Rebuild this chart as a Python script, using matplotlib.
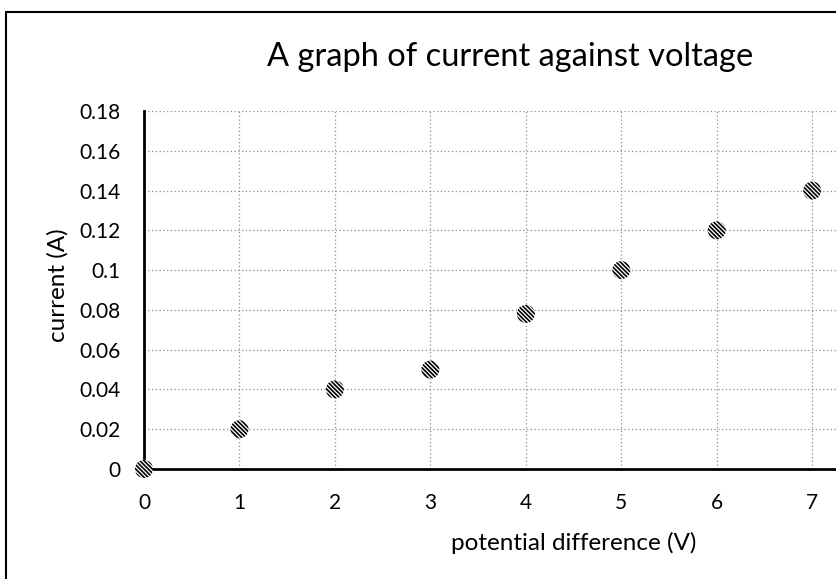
import matplotlib.pyplot as plt
from matplotlib.patches import Rectangle

# Measured values
voltage = [0, 1, 2, 3, 4, 5, 6, 7]
current = [0, 0.02, 0.04, 0.05, 0.078, 0.10, 0.12, 0.14]

x_ticks = [0, 1, 2, 3, 4, 5, 6, 7]
y_ticks = [0, 0.02, 0.04, 0.06, 0.08, 0.1, 0.12, 0.14, 0.16, 0.18]
y_tick_labels = ['0', '0.02', '0.04', '0.06', '0.08', '0.1', '0.12', '0.14', '0.16', '0.18']

plt.rcParams['font.family'] = ['Lato', 'DejaVu Sans']
plt.rcParams['hatch.linewidth'] = 1.2

W, H = 837, 579
fig = plt.figure(figsize=(W / 100, H / 100), dpi=100)

# Outer chart frame (cut off on the right and bottom)
fig.patches.append(Rectangle((6 / W, -0.1), 1.2, 1 - 12 / H + 0.1, transform=fig.transFigure,
                             fill=False, edgecolor='black', linewidth=1.5))

# Plot area
ax = fig.add_axes([144 / W, (H - 469) / H, (W - 144) / W, (469 - 111) / H])
ax.set_xlim(0, 7.26)
ax.set_ylim(0, 0.18)

ax.scatter(voltage, current, s=170, marker='o', facecolor='white', edgecolor='black',
           hatch='\\' * 8, linewidth=0, zorder=5, clip_on=False)

ax.set_xticks(x_ticks)
ax.set_yticks(y_ticks)
ax.set_yticklabels(y_tick_labels)
ax.tick_params(length=0, labelsize=15, pad=17)

ax.grid(True, color='#8c8c8c', linestyle=(0, (1, 2)), linewidth=0.9)
ax.set_axisbelow(True)

for side in ['top', 'right']:
    ax.spines[side].set_visible(False)
for side in ['left', 'bottom']:
    ax.spines[side].set_linewidth(2)
    ax.spines[side].set_color('black')

# Titles and axis labels
fig.text(510 / W, 1 - 57 / H, 'A graph of current against voltage', fontsize=23.5,
         ha='center', va='center')
fig.text(574 / W, 1 - 543 / H, 'potential difference (V)', fontsize=17.5,
         ha='center', va='center')
fig.text(58 / W, 1 - 285 / H, 'current (A)', fontsize=17.5, rotation=90,
         ha='center', va='center')

fig.savefig('out.png', dpi=100)
